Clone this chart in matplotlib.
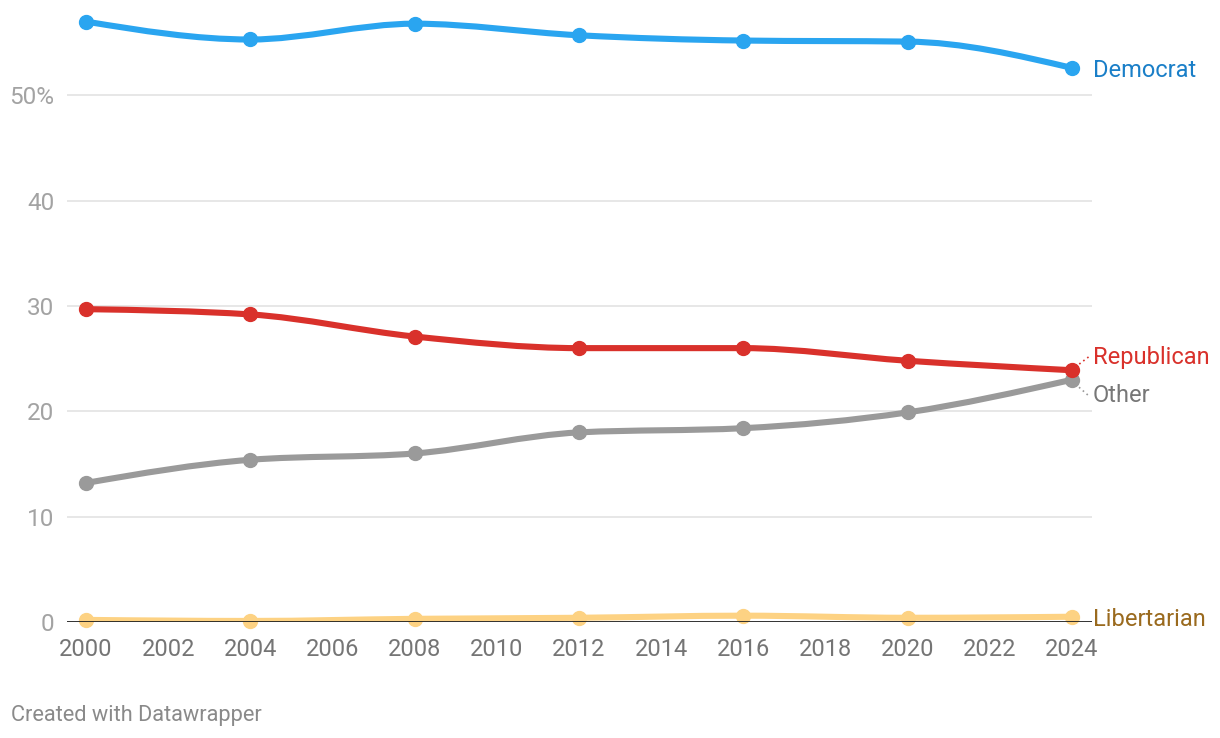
import numpy as np
import matplotlib
matplotlib.use('Agg')
import matplotlib.pyplot as plt
from matplotlib.path import Path
from matplotlib.patches import PathPatch

plt.rcParams['font.family'] = ['Roboto', 'DejaVu Sans']

# data (share of vote, %)
years = [2000, 2004, 2008, 2012, 2016, 2020, 2024]
democrat = [57.0, 55.3, 56.8, 55.7, 55.2, 55.1, 52.6]
republican = [29.7, 29.2, 27.1, 26.0, 26.0, 24.8, 23.9]
other = [13.2, 15.4, 16.0, 18.0, 18.4, 19.9, 23.0]
libertarian = [0.2, 0.1, 0.3, 0.4, 0.6, 0.4, 0.5]

x_ticks = list(range(2000, 2025, 2))
y_ticks = [0, 10, 20, 30, 40, 50]
y_labels = ['0', '10', '20', '30', '40', '50%']


def monotone_path(xs, ys):
    # same idea as d3.curveMonotoneX, drawn as cubic bezier segments
    xs = np.asarray(xs, float)
    ys = np.asarray(ys, float)
    n = len(xs)
    h = np.diff(xs)
    s = np.diff(ys) / h
    t = np.zeros(n)
    for i in range(1, n - 1):
        p = (s[i - 1] * h[i] + s[i] * h[i - 1]) / (h[i - 1] + h[i])
        t[i] = (np.sign(s[i - 1]) + np.sign(s[i])) * min(abs(s[i - 1]), abs(s[i]), 0.5 * abs(p))
    t[0] = (3 * s[0] - t[1]) / 2
    t[-1] = (3 * s[-1] - t[-2]) / 2
    verts = [(xs[0], ys[0])]
    codes = [Path.MOVETO]
    for i in range(n - 1):
        dx = h[i] / 3
        verts += [(xs[i] + dx, ys[i] + dx * t[i]),
                  (xs[i + 1] - dx, ys[i + 1] - dx * t[i + 1]),
                  (xs[i + 1], ys[i + 1])]
        codes += [Path.CURVE4] * 3
    return Path(verts, codes)


fig = plt.figure(figsize=(12.2, 7.38), dpi=100)
ax = fig.add_axes([67 / 1220, 116 / 738, 1025 / 1220, 612 / 738])
ax.set_xlim(2000 - 19 / 41.08, 2024 + 20 / 41.08)
ax.set_ylim(0, 58.1)

for v in y_ticks[1:]:
    ax.axhline(v, color='#e3e3e3', lw=1.2, zorder=0)
ax.axhline(0, color='#222222', lw=1.3, zorder=4)

series = [
    ('Libertarian', libertarian, '#fdd283', '#9a6a1e'),
    ('Other', other, '#9a9a9a', '#777777'),
    ('Republican', republican, '#d9312b', '#d9312b'),
    ('Democrat', democrat, '#2aa5f0', '#1a7fc8'),
]

for name, vals, col, lab_col in series:
    patch = PathPatch(monotone_path(years, vals), fill=False, edgecolor=col,
                      lw=4.4, capstyle='round', joinstyle='round', zorder=3)
    ax.add_patch(patch)
    ax.plot(years, vals, 'o', color=col, ms=10, zorder=3, clip_on=False)

# line labels at the right end
label_pos = {'Democrat': 52.4, 'Republican': 25.1, 'Other': 21.5, 'Libertarian': 0.25}
for name, vals, col, lab_col in series:
    ax.text(2024.5, label_pos[name], name, color=lab_col, fontsize=17,
            va='center', ha='left', clip_on=False)

# small dotted connectors
ax.plot([2024.08, 2024.45], [24.2, 25.3], ls=(0, (1, 2)), color='#d9312b', lw=1.2, clip_on=False)
ax.plot([2024.08, 2024.4], [22.6, 21.5], ls=(0, (1, 2)), color='#999999', lw=1.2, clip_on=False)

ax.set_xticks(x_ticks)
ax.set_xticklabels([str(x) for x in x_ticks], fontsize=17, color='#757575')
ax.set_yticks(y_ticks)
ax.set_yticklabels(y_labels, fontsize=17.5, color='#a3a3a3')
ax.tick_params(axis='x', length=0, pad=11.5)
ax.tick_params(axis='y', length=0, pad=9)
for sp in ax.spines.values():
    sp.set_visible(False)

fig.text(11 / 1220, 1 - 715 / 738, 'Created with Datawrapper', fontsize=15.7,
         color='#8a8a8a', va='center', ha='left')

fig.savefig('out.png', dpi=100)
